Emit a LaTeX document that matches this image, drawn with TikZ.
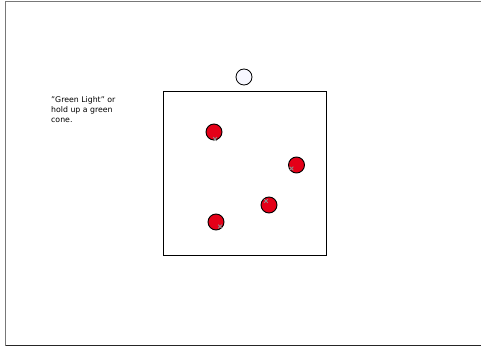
\documentclass[tikz,border=0pt]{standalone}
\usepackage{fontspec}
\setmainfont{DejaVu Sans}
\usepackage{tikz}
\usetikzlibrary{positioning}

\definecolor{ballred}{RGB}{228,0,24}
\definecolor{framegray}{RGB}{120,120,120}
\definecolor{markgray}{RGB}{140,140,140}

\begin{document}
\begin{tikzpicture}[
  font=\fontsize{7.8}{10.3}\selectfont,
  x=1pt,
  y=-1pt,
  ball/.style={circle, draw=black, line width=0.9pt, fill=ballred, minimum size=16pt, inner sep=0pt},
  marker/.style={draw=markgray, line width=0.9pt}
]
\useasboundingbox (0,0) rectangle (481,347);
% page frame
\draw[framegray, line width=1pt] (481,1.5) -- (5.5,1.5) -- (5.5,345.5);
\draw[black!85, line width=1pt] (5.5,345.5) -- (481,345.5);
% field
\node[draw=black, line width=1pt, minimum width=163pt, minimum height=163pt, inner sep=0pt] (field) at (245,173.5) {};
\node[circle, draw=black, line width=0.8pt, fill=blue!3!white, minimum size=16pt, inner sep=0pt] (light) at (244,77) {};
\node[anchor=north west, align=left, inner sep=0pt] (cue) at (51,96) {"Green Light" or\\hold up a green\\cone.};
% players
\foreach \n/\x/\y/\mx/\my in {
  a/214/132/215/139,
  b/296.5/165/291.5/168.5,
  c/269/205/266/201,
  d/216/222/220/226.5
}{
  \node[ball] (p\n) at (\x,\y) {};
  \draw[marker] (\mx-1.8,\my-1.8) -- (\mx+1.8,\my+1.8) (\mx-1.8,\my+1.8) -- (\mx+1.8,\my-1.8);
}
\end{tikzpicture}
\end{document}
